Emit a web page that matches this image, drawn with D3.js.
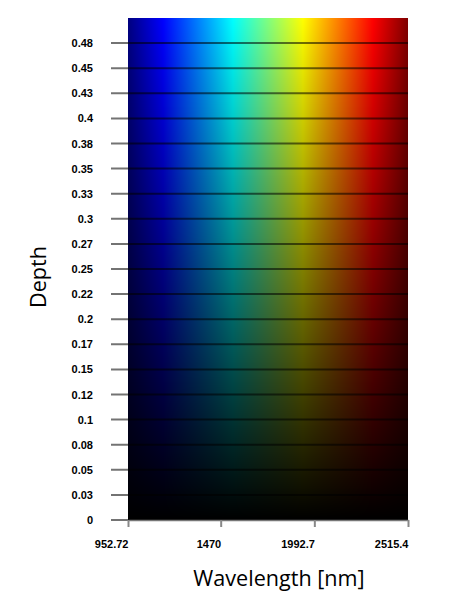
<!DOCTYPE html>
<html lang="en">
<head>
  <meta charset="utf-8">
  <title>depth vs wavelength</title>
  <style>
  * { margin:0; padding:0; }
  body { background:#fff; }
  .tick text { font-family: "Liberation Sans", Arial, sans-serif; font-weight: bold; font-size: 11px; fill:#000; }
  .title { font-family: "Open Sans", "Noto Sans", sans-serif; font-size: 21.6px; fill:#000; }
  </style>
  <script src="https://d3js.org/d3.v7.min.js"></script>
</head>
<body>
  <div id="chart"></div>
  <script type="text/javascript">
  // data
  var wavelengthDomain = [952.72, 2515.4];
  var depthDomain = [0, 0.5];
  var xTickValues = [952.72, 1470, 1992.7, 2515.4];
  var xTickLabels = ["952.72", "1470", "1992.7", "2515.4"];
  var yTickValues = [0, 0.025, 0.05, 0.075, 0.1, 0.125, 0.15, 0.175, 0.2, 0.225,
                     0.25, 0.275, 0.3, 0.325, 0.35, 0.375, 0.4, 0.425, 0.45, 0.475];
  var yTickLabels = ["0","0.03","0.05","0.08","0.1","0.12","0.15","0.17","0.2","0.22",
                     "0.25","0.27","0.3","0.33","0.35","0.38","0.4","0.43","0.45","0.48"];

  var w = 455, h = 611;
  var pLeft = 128, pRight = 408, pTop = 18, pBottom = 520;

  var svg = d3.select("#chart").append("svg")
    .attr("width", w).attr("height", h);

  var x = d3.scaleLinear().domain(wavelengthDomain).range([pLeft, pRight]);
  var y = d3.scaleLinear().domain(depthDomain).range([pBottom, pTop]);

  function jet(t){
    function c(v){ return Math.max(0, Math.min(1, v)); }
    var r = c(1.5 - Math.abs(4*t - 3));
    var g = c(1.5 - Math.abs(4*t - 2));
    var b = c(1.5 - Math.abs(4*t - 1));
    return [r, g, b];
  }

  // build the image on a canvas, one pixel per screen pixel
  var cw = pRight - pLeft, ch = pBottom - pTop;
  var canvas = document.createElement("canvas");
  canvas.width = cw; canvas.height = ch;
  var ctx = canvas.getContext("2d");
  var img = ctx.createImageData(cw, ch);
  for (var j=0;j<ch;j++){
    var depth = y.invert(pTop + j + 0.5);
    var k = (depth - depthDomain[0])/(depthDomain[1]-depthDomain[0]);
    for (var i=0;i<cw;i++){
      var wl = x.invert(pLeft + i + 0.5);
      var t = (wl - wavelengthDomain[0])/(wavelengthDomain[1]-wavelengthDomain[0]);
      var col = jet(t);
      var p = 4*(j*cw+i);
      img.data[p]   = Math.round(255*col[0]*k);
      img.data[p+1] = Math.round(255*col[1]*k);
      img.data[p+2] = Math.round(255*col[2]*k);
      img.data[p+3] = 255;
    }
  }
  ctx.putImageData(img, 0, 0);

  svg.append("image")
    .attr("x", pLeft).attr("y", pTop)
    .attr("width", cw).attr("height", ch)
    .attr("preserveAspectRatio", "none")
    .attr("href", canvas.toDataURL());

  // grid lines at each depth tick
  svg.append("g").selectAll("line")
    .data(yTickValues)
    .enter().append("line")
    .attr("x1", pLeft - 17).attr("x2", pRight)
    .attr("y1", function(d){ return y(d); })
    .attr("y2", function(d){ return y(d); })
    .style("stroke", "#000")
    .style("stroke-opacity", 0.55)
    .style("stroke-width", 2);

  // y axis labels
  var yAxis = d3.axisLeft(y)
    .tickValues(yTickValues)
    .tickFormat(function(d,i){ return yTickLabels[i]; })
    .tickSize(0).tickPadding(35);
  var gy = svg.append("g").attr("transform", "translate(" + pLeft + ",0)").call(yAxis);
  gy.select(".domain").remove();

  // x axis, labels end at their tick
  var xAxis = d3.axisBottom(x)
    .tickValues(xTickValues)
    .tickFormat(function(d,i){ return xTickLabels[i]; })
    .tickSize(7).tickPadding(13).tickSizeOuter(0);
  var gx = svg.append("g").attr("transform", "translate(0," + pBottom + ")").call(xAxis);
  gx.select(".domain").style("stroke", "#777").style("stroke-width", 1.5);
  gx.selectAll(".tick line").style("stroke", "#888").style("stroke-width", 2);
  gx.selectAll(".tick text").attr("text-anchor", "end");

  // titles
  svg.append("text").attr("class", "title")
    .attr("x", 279).attr("y", 586)
    .attr("text-anchor", "middle")
    .text("Wavelength [nm]");

  svg.append("text").attr("class", "title")
    .attr("transform", "translate(46,277) rotate(-90)")
    .attr("text-anchor", "middle")
    .text("Depth");
  </script>
</body>
</html>
